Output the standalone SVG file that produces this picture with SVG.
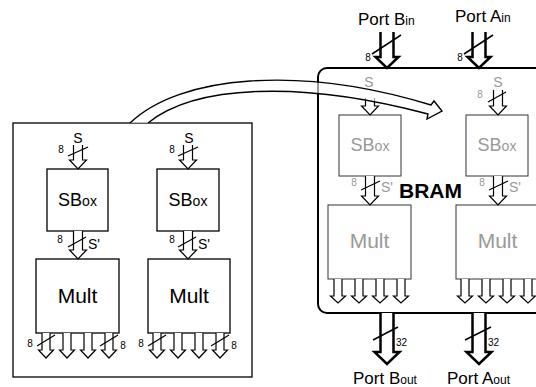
<svg xmlns="http://www.w3.org/2000/svg" width="536" height="387" viewBox="0 0 536 387">
<style>
text{font-family:"Liberation Sans",Arial,sans-serif;fill:#000}
.box{fill:#fff;stroke:#000;stroke-width:1.3}
.gbox{fill:#fff;stroke:#333;stroke-width:1}
.ha{fill:#fff;stroke:#000;stroke-width:1.2;stroke-linejoin:miter}
.pa{fill:#fff;stroke:#000;stroke-width:2.5;stroke-linejoin:miter}
.sl{stroke:#000;stroke-width:1.2;fill:none}
.slp{stroke:#000;stroke-width:1.5;fill:none}
.n{font-size:10px}
.lb{font-size:14px}
.big{font-size:21px}
.g{fill:#999}
.port{font-size:17px}
.sub{font-size:12px}
</style>
<rect width="536" height="387" fill="#fff"/>

<g id="fpga">
  <rect class="box" x="13" y="123" width="239" height="254" stroke-width="1.5"/>
</g>
<g id="sbox1">
  <rect class="box" x="47" y="169" width="61" height="62"/>
  <text x="77.5" y="206" text-anchor="middle" font-size="18">SB<tspan font-size="14">ox</tspan></text>
</g>
<g id="sbox2">
  <rect class="box" x="157" y="169" width="62" height="62"/>
  <text x="188" y="206" text-anchor="middle" font-size="18">SB<tspan font-size="14">ox</tspan></text>
</g>
<g id="mult1">
  <rect class="box" x="36" y="259" width="83" height="74"/>
  <text class="big" x="77.5" y="303" text-anchor="middle">Mult</text>
</g>
<g id="mult2">
  <rect class="box" x="148" y="259" width="82" height="74"/>
  <text class="big" x="189" y="303" text-anchor="middle">Mult</text>
</g>

<g id="bram">
  <rect x="318" y="68" width="240" height="245" rx="9" fill="#fff" stroke="#000" stroke-width="2"/>
  <text x="399" y="198" font-size="21" font-weight="bold">BRAM</text>
</g>
<g id="bsbox1">
  <rect class="gbox" x="339" y="115" width="62" height="61"/>
  <text class="g" x="370" y="151" text-anchor="middle" font-size="18">SB<tspan font-size="14">ox</tspan></text>
</g>
<g id="bsbox2">
  <rect class="gbox" x="466" y="115" width="62" height="61"/>
  <text class="g" x="497" y="151" text-anchor="middle" font-size="18">SB<tspan font-size="14">ox</tspan></text>
</g>
<g id="bmult1">
  <rect class="gbox" x="328" y="205" width="83" height="74"/>
  <text class="big g" x="369.5" y="248" text-anchor="middle">Mult</text>
</g>
<g id="bmult2">
  <rect class="gbox" x="456" y="205" width="83" height="74"/>
  <text class="big g" x="497.5" y="248" text-anchor="middle">Mult</text>
</g>

<g id="connectors">
  <!-- left FPGA arrows -->
  <path class="ha" d="M73.5,145V160H69.5L78,169L86.5,160H82.5V145"/>
  <path class="ha" d="M183.5,145V160H179.5L188,169L196.5,160H192.5V145"/>
  <path class="ha" d="M73.5,231V250H69.5L78,259L86.5,250H82.5V231"/>
  <path class="ha" d="M183.5,231V250H179.5L188,259L196.5,250H192.5V231"/>
  <path class="ha" d="M42,333V350H38.5L46,358L53.5,350H50V333"/>
  <path class="ha" d="M63,333V350H59.5L67,358L74.5,350H71V333"/>
  <path class="ha" d="M84,333V350H80.5L88,358L95.5,350H92V333"/>
  <path class="ha" d="M105,333V350H101.5L109,358L116.5,350H113V333"/>
  <path class="ha" d="M153,333V350H149.5L157,358L164.5,350H161V333"/>
  <path class="ha" d="M174,333V350H170.5L178,358L185.5,350H182V333"/>
  <path class="ha" d="M195,333V350H191.5L199,358L206.5,350H203V333"/>
  <path class="ha" d="M216,333V350H212.5L220,358L227.5,350H224V333"/>
  <line class="sl" x1="68" y1="156" x2="88" y2="147"/>
  <line class="sl" x1="178" y1="156" x2="198" y2="147"/>
  <line class="sl" x1="68" y1="247" x2="86" y2="237"/>
  <line class="sl" x1="178" y1="247" x2="196" y2="237"/>
  <line class="sl" x1="37" y1="346" x2="55" y2="335"/>
  <line class="sl" x1="100" y1="346" x2="118" y2="335"/>
  <line class="sl" x1="148" y1="346" x2="166" y2="335"/>
  <line class="sl" x1="211" y1="346" x2="229" y2="335"/>

  <!-- ports -->
  <path class="pa" d="M380.5,32V57H375.5L387,68L398.5,57H393.5V32"/>
  <path class="pa" d="M472.5,32V57H467.5L479,68L490.5,57H485.5V32"/>
  <path class="pa" d="M380.5,313V352H374.5L387,364L399.5,352H393.5V313"/>
  <path class="pa" d="M472.5,313V352H466.5L479,364L491.5,352H485.5V313"/>
  <line class="slp" x1="372" y1="54" x2="401" y2="35"/>
  <line class="slp" x1="464" y1="54" x2="493" y2="35"/>
  <line class="slp" x1="373" y1="340" x2="398" y2="327"/>
  <line class="slp" x1="465" y1="340" x2="491" y2="327"/>

  <!-- BRAM internal arrows -->
  <path class="ha" d="M365.5,98V106H361.5L370,115L378.5,106H374.5V98"/>
  <path class="ha" d="M493.5,90V106H489.5L498,115L506.5,106H502.5V90"/>
  <line class="sl" x1="488" y1="102" x2="506" y2="92"/>
  <path class="ha" d="M365.5,176V196H361.5L370,205L378.5,196H374.5V176"/>
  <path class="ha" d="M493.5,176V196H489.5L498,205L506.5,196H502.5V176"/>
  <line class="sl" x1="361" y1="190" x2="380" y2="181"/>
  <line class="sl" x1="489" y1="190" x2="508" y2="181"/>
  <path class="ha" d="M334,279V296H330.5L338,303L345.5,296H342V279"/>
  <path class="ha" d="M355,279V296H351.5L359,303L366.5,296H363V279"/>
  <path class="ha" d="M376,279V296H372.5L380,303L387.5,296H384V279"/>
  <path class="ha" d="M397,279V296H393.5L401,303L408.5,296H405V279"/>
  <path class="ha" d="M461,279V296H457.5L465,303L472.5,296H469V279"/>
  <path class="ha" d="M482,279V296H478.5L486,303L493.5,296H490V279"/>
  <path class="ha" d="M503,279V296H499.5L507,303L514.5,296H511V279"/>
  <path class="ha" d="M524,279V296H520.5L528,303L535.5,296H532V279"/>

  <!-- curved transfer arrow -->
  <path d="M130,123 C180,75 300,65 431,105 L434,101 L442,111 L427,119 L428,114 C300,80 195,85 148,123" fill="#fff" fill-opacity="0.6" stroke="#000" stroke-width="1.4" stroke-linejoin="miter"/>
</g>

<g id="labels">
  <text class="n" x="61" y="153" text-anchor="middle">8</text>
  <text class="n" x="172" y="153" text-anchor="middle">8</text>
  <text class="lb" x="78" y="143" text-anchor="middle">S</text>
  <text class="lb" x="189" y="143" text-anchor="middle">S</text>
  <text class="n" x="60" y="243" text-anchor="middle">8</text>
  <text class="n" x="172" y="243" text-anchor="middle">8</text>
  <text class="lb" x="88" y="249">S'</text>
  <text class="lb" x="198" y="249">S'</text>
  <text class="n" x="30" y="347" text-anchor="middle">8</text>
  <text class="n" x="123" y="349" text-anchor="middle">8</text>
  <text class="n" x="141" y="347" text-anchor="middle">8</text>
  <text class="n" x="234" y="349" text-anchor="middle">8</text>

  <text class="port" x="358" y="25">Port B<tspan class="sub">in</tspan></text>
  <text class="port" x="455" y="22">Port A<tspan class="sub">in</tspan></text>
  <text class="port" x="353" y="384">Port B<tspan class="sub">out</tspan></text>
  <text class="port" x="447" y="384">Port A<tspan class="sub">out</tspan></text>
  <text class="n" x="368" y="61" text-anchor="middle">8</text>
  <text class="n" x="460" y="61" text-anchor="middle">8</text>
  <text class="n" x="396" y="346">32</text>
  <text class="n" x="488" y="346">32</text>

  <text class="lb g" x="369" y="87" text-anchor="middle">S</text>
  <text class="lb g" x="498" y="87" text-anchor="middle">S</text>
  <text class="n g" x="480" y="98" text-anchor="middle">8</text>
  <text class="n g" x="354" y="186" text-anchor="middle">8</text>
  <text class="n g" x="482" y="186" text-anchor="middle">8</text>
  <text class="lb g" x="381" y="192">S'</text>
  <text class="lb g" x="509" y="192">S'</text>
</g>
</svg>
